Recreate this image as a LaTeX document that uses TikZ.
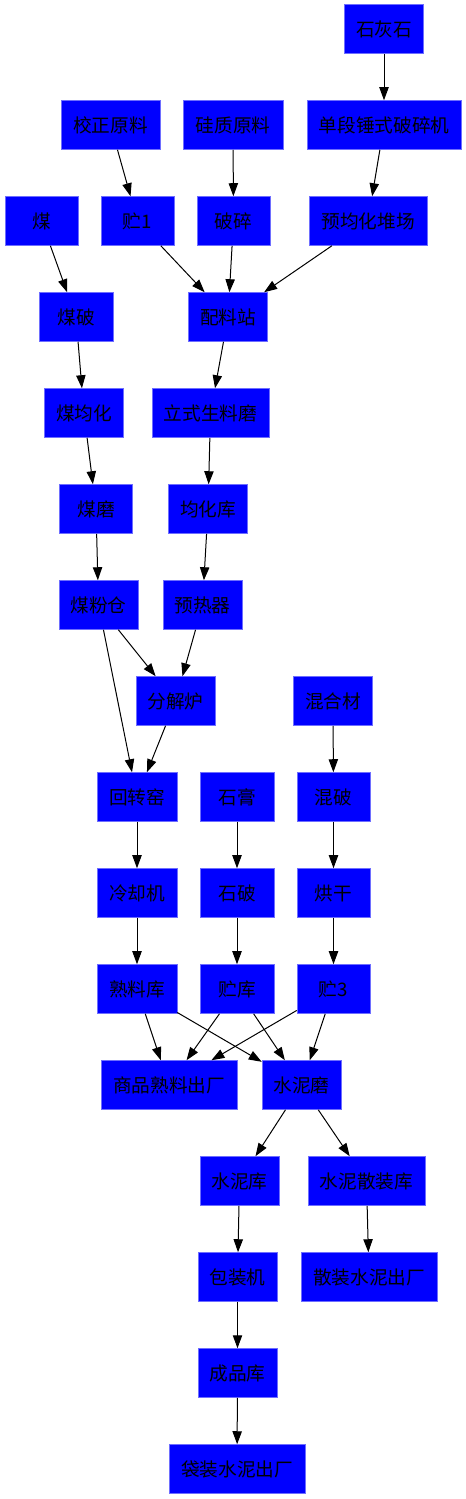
\documentclass[tikz,border=0pt]{standalone}
\usepackage{fontspec}
\setmainfont{Noto Sans CJK SC}
\usetikzlibrary{arrows.meta}
\tikzset{
  box/.style={rectangle, fill={rgb,255:red,0;green,0;blue,255}, draw={rgb,255:red,110;green,110;blue,255}, line width=0.4pt,
    minimum height=36.75pt, inner sep=0pt, text=black, font=\fontsize{14pt}{16pt}\selectfont},
  flow/.style={draw=black, line width=0.75pt, -{Triangle[length=9.75pt,width=7pt]}}
}
\begin{document}
\begin{tikzpicture}[x=0.75pt, y=-0.75pt]
\useasboundingbox (0,0) rectangle (465,1499);
\node[box, minimum width=59.25pt] (n1) at (384,29) {石灰石};
\node[box, minimum width=74.25pt] (n2) at (110.5,125) {校正原料};
\node[box, minimum width=75pt] (n3) at (233,125) {硅质原料};
\node[box, minimum width=115.5pt] (n4) at (384,125) {单段锤式破碎机};
\node[box, minimum width=54.75pt] (n5) at (41.5,221) {煤};
\node[box, minimum width=54.75pt] (n6) at (137.5,221) {贮1};
\node[box, minimum width=54.75pt] (n7) at (233.5,221) {破碎};
\node[box, minimum width=88.5pt] (n8) at (368,221) {预均化堆场};
\node[box, minimum width=55.5pt] (n9) at (76,317) {煤破};
\node[box, minimum width=59.25pt] (n10) at (228,317) {配料站};
\node[box, minimum width=59.25pt] (n11) at (84,413) {煤均化};
\node[box, minimum width=87.75pt] (n12) at (210.5,413) {立式生料磨};
\node[box, minimum width=54.75pt] (n13) at (96,509) {煤磨};
\node[box, minimum width=59.25pt] (n14) at (208,509) {均化库};
\node[box, minimum width=59.25pt] (n15) at (98.5,605) {煤粉仓};
\node[box, minimum width=59.25pt] (n16) at (202.5,605) {预热器};
\node[box, minimum width=59.25pt] (n17) at (175.5,701) {分解炉};
\node[box, minimum width=59.25pt] (n18) at (333,701) {混合材};
\node[box, minimum width=60pt] (n19) at (137,797) {回转窑};
\node[box, minimum width=55.5pt] (n20) at (237,797) {石膏};
\node[box, minimum width=54.75pt] (n21) at (333.5,797) {混破};
\node[box, minimum width=60pt] (n22) at (137,893) {冷却机};
\node[box, minimum width=55.5pt] (n23) at (237,893) {石破};
\node[box, minimum width=54.75pt] (n24) at (333.5,893) {烘干};
\node[box, minimum width=60pt] (n25) at (137,989) {熟料库};
\node[box, minimum width=55.5pt] (n26) at (237,989) {贮库};
\node[box, minimum width=54.75pt] (n27) at (333.5,989) {贮3};
\node[box, minimum width=102pt] (n28) at (169,1085) {商品熟料出厂};
\node[box, minimum width=59.25pt] (n29) at (301.5,1085) {水泥磨};
\node[box, minimum width=59.25pt] (n30) at (239.5,1181) {水泥库};
\node[box, minimum width=87.75pt] (n31) at (366.5,1181) {水泥散装库};
\node[box, minimum width=59.25pt] (n32) at (237.5,1277) {包装机};
\node[box, minimum width=102pt] (n33) at (369,1277) {散装水泥出厂};
\node[box, minimum width=59.25pt] (n34) at (237.5,1373) {成品库};
\node[box, minimum width=102pt] (n35) at (237,1469) {袋装水泥出厂};
\foreach \a/\b in {n1/n4, n2/n6, n3/n7, n4/n8, n5/n9, n6/n10, n7/n10, n8/n10, n9/n11, n10/n12,
  n11/n13, n12/n14, n13/n15, n14/n16, n15/n17, n15/n19, n16/n17, n17/n19, n18/n21, n19/n22,
  n20/n23, n21/n24, n22/n25, n23/n26, n24/n27, n25/n28, n25/n29, n26/n28, n26/n29, n27/n28,
  n27/n29, n29/n30, n29/n31, n30/n32, n31/n33, n32/n34, n34/n35}
  \draw[flow] (\a) -- (\b);
\end{tikzpicture}
\end{document}
